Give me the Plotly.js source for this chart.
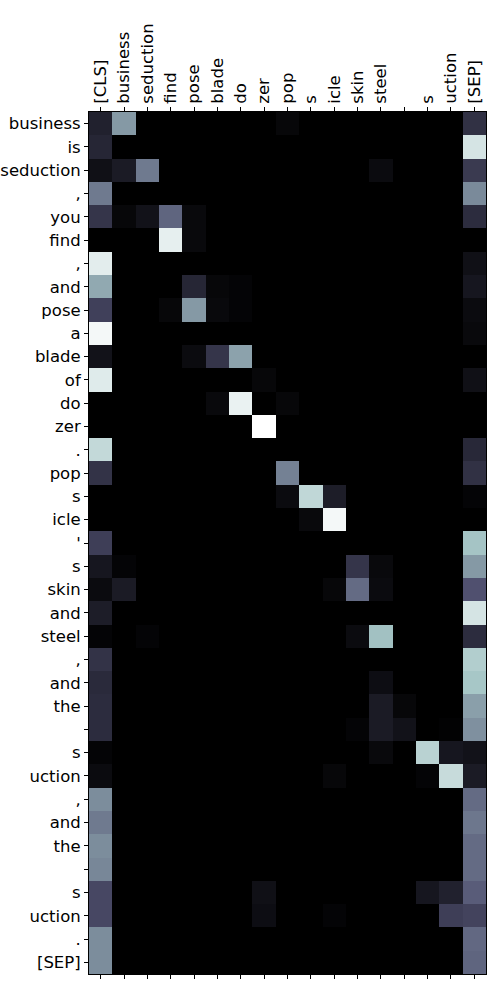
<!DOCTYPE html>
<html>
<head>
<meta charset="utf-8">
<script src="https://cdn.plot.ly/plotly-3.0.1.min.js"></script>
<style>html,body{margin:0;padding:0;background:#fff;}#chart{width:500px;height:1000px;}</style>
</head>
<body>
<div id="chart"></div>
<script>
// Key tokens (columns)
const keyTokens = ["[CLS]","business","seduction","find","pose","blade","do","zer","pop","s","icle","skin","steel","","s","uction","[SEP]"];
// Query tokens (rows)
const queryTokens = ["business","is","seduction",",","you","find",",","and","pose","a","blade","of","do","zer",".","pop","s","icle","'","s","skin","and","steel",",","and","the","","s","uction",",","and","the","","s","uction",".","[SEP]"];

// Attention weights (rows = query tokens, columns = key tokens)
const attention = [
  [0.15,0.60,0,0,0,0,0,0,0.03,0,0,0,0,0,0,0,0.22],
  [0.17,0,0,0,0,0,0,0,0,0,0,0,0,0,0,0,0.88],
  [0.07,0.12,0.50,0,0,0,0,0,0,0,0,0,0.05,0,0,0,0.26],
  [0.50,0,0,0,0,0,0,0,0,0,0,0,0,0,0,0,0.55],
  [0.24,0.03,0.08,0.43,0.04,0,0,0,0,0,0,0,0,0,0,0,0.20],
  [0,0,0,0.93,0.04,0,0,0,0,0,0,0,0,0,0,0,0],
  [0.92,0,0,0,0,0,0,0,0,0,0,0,0,0,0,0,0.07],
  [0.65,0,0,0,0.17,0.03,0.02,0,0,0,0,0,0,0,0,0,0.10],
  [0.29,0,0,0.03,0.60,0.04,0.02,0,0,0,0,0,0,0,0,0,0.05],
  [0.97,0,0,0,0,0,0,0,0,0,0,0,0,0,0,0,0.04],
  [0.08,0,0,0,0.05,0.24,0.63,0,0,0,0,0,0,0,0,0,0],
  [0.91,0,0,0,0,0,0,0.03,0,0,0,0,0,0,0,0,0.07],
  [0,0,0,0,0,0.04,0.94,0,0.03,0,0,0,0,0,0,0,0],
  [0,0,0,0,0,0,0,1.00,0,0,0,0,0,0,0,0,0],
  [0.83,0,0,0,0,0,0,0,0,0,0,0,0,0,0,0,0.18],
  [0.23,0,0,0,0,0,0,0,0.52,0,0,0,0,0,0,0,0.22],
  [0,0,0,0,0,0,0,0,0.05,0.82,0.13,0,0,0,0,0,0.02],
  [0,0,0,0,0,0,0,0,0,0.04,0.97,0,0,0,0,0,0],
  [0.28,0,0,0,0,0,0,0,0,0,0,0,0,0,0,0,0.74],
  [0.10,0.02,0,0,0,0,0,0,0,0,0,0.24,0.04,0,0,0,0.60],
  [0.05,0.12,0,0,0,0,0,0,0,0,0.03,0.45,0.05,0,0,0,0.36],
  [0.13,0,0,0,0,0,0,0,0,0,0,0,0,0,0,0,0.88],
  [0.02,0,0.02,0,0,0,0,0,0,0,0,0.05,0.73,0,0,0,0.20],
  [0.23,0,0,0,0,0,0,0,0,0,0,0,0,0,0,0,0.78],
  [0.19,0,0,0,0,0,0,0,0,0,0,0,0.06,0,0,0,0.75],
  [0.20,0,0,0,0,0,0,0,0,0,0,0,0.12,0.03,0,0,0.62],
  [0.20,0,0,0,0,0,0,0,0,0,0,0.02,0.12,0.08,0,0.01,0.57],
  [0.02,0,0,0,0,0,0,0,0,0,0,0,0.04,0,0.80,0.10,0.08],
  [0.05,0,0,0,0,0,0,0,0,0,0.03,0,0,0,0.02,0.84,0.12],
  [0.56,0,0,0,0,0,0,0,0,0,0,0,0,0,0,0,0.45],
  [0.50,0,0,0,0,0,0,0,0,0,0,0,0,0,0,0,0.49],
  [0.56,0,0,0,0,0,0,0,0,0,0,0,0,0,0,0,0.45],
  [0.54,0,0,0,0,0,0,0,0,0,0,0,0,0,0,0,0.45],
  [0.32,0,0,0,0,0,0,0.07,0,0,0,0,0,0,0.10,0.15,0.40],
  [0.32,0,0,0,0,0,0,0.06,0,0,0.02,0,0,0,0,0.28,0.30],
  [0.56,0,0,0,0,0,0,0,0,0,0,0,0,0,0,0,0.44],
  [0.56,0,0,0,0,0,0,0,0,0,0,0,0,0,0,0,0.43]
];

const xIdx = keyTokens.map((_, i) => i);
const yIdx = queryTokens.map((_, i) => i);

const bone = [
  [0, 'rgb(0,0,0)'],
  [0.365079, 'rgb(81,81,113)'],
  [0.746032, 'rgb(166,198,198)'],
  [1, 'rgb(255,255,255)']
];

const font = {family: 'DejaVu Sans', size: 16.5, color: '#000'};

const trace = {
  type: 'heatmap',
  z: attention,
  x: xIdx,
  y: yIdx,
  colorscale: bone,
  zmin: 0, zmax: 1,
  showscale: false,
  xgap: 0, ygap: 0
};
// invisible trace to anchor bottom axis
const trace2 = {type:'scatter', x:[0], y:[0], xaxis:'x2', mode:'markers', marker:{opacity:0}, hoverinfo:'skip', showlegend:false};

const layout = {
  width: 500, height: 1000,
  margin: {l: 89, r: 14, t: 112, b: 26},
  paper_bgcolor: '#fff', plot_bgcolor: '#fff',
  font: font,
  showlegend: false,
  xaxis: {
    side: 'top',
    range: [-0.5, keyTokens.length - 0.5],
    tickmode: 'array', tickvals: xIdx, ticktext: keyTokens,
    tickangle: -90,
    ticks: 'outside', ticklen: 4, tickwidth: 1, tickcolor: '#000',
    showline: true, linecolor: '#000', linewidth: 1, mirror: true,
    showgrid: false, zeroline: false,
    tickfont: font
  },
  xaxis2: {
    overlaying: 'x', side: 'bottom', anchor: 'y',
    range: [-0.5, keyTokens.length - 0.5],
    tickmode: 'array', tickvals: xIdx, showticklabels: false,
    ticks: 'outside', ticklen: 4, tickwidth: 1, tickcolor: '#000',
    showline: false, showgrid: false, zeroline: false
  },
  yaxis: {
    range: [queryTokens.length - 0.5, -0.5],
    tickmode: 'array', tickvals: yIdx, ticktext: queryTokens,
    ticks: 'outside', ticklen: 4, tickwidth: 1, tickcolor: '#000',
    showline: true, linecolor: '#000', linewidth: 1, mirror: true,
    showgrid: false, zeroline: false,
    tickfont: font
  }
};

Plotly.newPlot('chart', [trace, trace2], layout, {staticPlot: true, displayModeBar: false});
</script>
</body>
</html>
